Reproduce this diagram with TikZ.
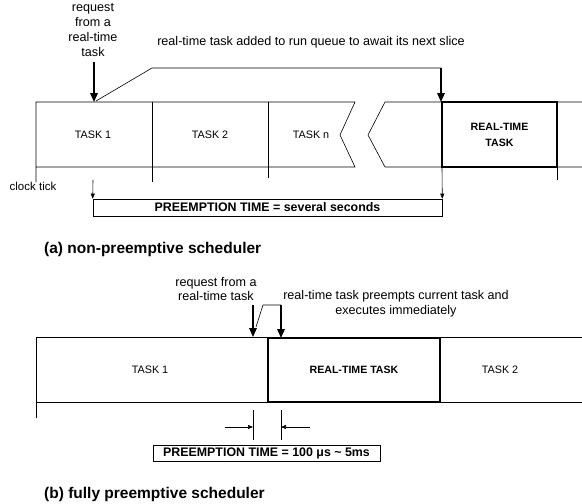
\documentclass[tikz,border=0pt]{standalone}
\usepackage{fontspec}
\setmainfont{Liberation Sans}
\usetikzlibrary{arrows.meta}
\tikzset{
  thinline/.style={line width=0.6pt},
  thickbox/.style={line width=1.3pt},
  bigarrow/.style={line width=1.6pt,-{Triangle[length=9pt,width=7.5pt]}},
  smallarrow/.style={line width=0.6pt,-{Triangle[length=5pt,width=4pt]}},
  lbl/.style={font=\fontsize{12.6}{14.8}\selectfont,align=center,inner sep=0pt},
  tasklbl/.style={font=\fontsize{10.8}{16}\selectfont,align=center,inner sep=0pt},
  rtlbl/.style={font=\fontsize{10.6}{16}\selectfont\bfseries,align=center,inner sep=0pt},
  ptlbl/.style={font=\fontsize{12.4}{14}\selectfont\bfseries,inner sep=0pt},
  caplbl/.style={font=\fontsize{15.5}{18}\selectfont\bfseries,inner sep=0pt,anchor=west},
}
\begin{document}
\begin{tikzpicture}[x=1pt,y=-1pt]
\useasboundingbox (0,0) rectangle (582,504);
% ---------------- (a) ----------------
\node[lbl] (reqa) at (93,30) {request\\from a\\real-time\\task};
\coordinate (reqaS) at (94,62);
\coordinate (reqaT) at (94,102);
\draw[bigarrow] (reqaS) -- (reqaT);
\node[lbl] (calla) at (311,42) {real-time task added to run queue to await its next slice};
\coordinate (ca1) at (96,101);
\coordinate (ca2) at (152,68);
\coordinate (ca3) at (441,68);
\coordinate (ca4) at (441,102);
\draw[thinline] (ca1) -- (ca2) -- (ca3);
\draw[bigarrow] (ca3) -- (ca4);
% strip
\draw[thinline] (36,182) -- (36,102) -- (355,102) -- (340,135) -- (355,167) -- (36,167);
\draw[thinline] (582,102) -- (385,102) -- (368,135) -- (385,167) -- (582,167);
\draw[thinline] (152,102) -- (152,182);
\draw[thinline] (268,102) -- (268,178);
\draw[thinline] (557,167) -- (557,180);
\node[draw,thickbox,minimum width=115pt,minimum height=65pt,inner sep=0pt] (rta) at (499.5,134.5) {};
\node[tasklbl] (t1a) at (93,135) {TASK 1};
\node[tasklbl] (t2a) at (210,135) {TASK 2};
\node[tasklbl] (tna) at (311,135) {TASK n};
\node[rtlbl] (rtla) at (rta.center) {REAL-TIME\\TASK};
% clock tick / preemption time
\node[lbl,font=\fontsize{11.5}{14}\selectfont] (clk) at (33,186) {clock tick};
\node[draw,thinline,minimum width=349pt,minimum height=17pt,inner sep=0pt] (pta) at (267.5,207.5) {};
\node[ptlbl] (ptla) at (pta.center) {PREEMPTION TIME = several seconds};
\coordinate (ckS) at (93,180);
\draw[smallarrow] (ckS) -- (pta.north west);
\coordinate (rtS) at (442,167);
\draw[smallarrow] (rtS) -- (pta.north east);
\node[caplbl] (capa) at (44,249) {(a) non-preemptive scheduler};
% ---------------- (b) ----------------
\node[lbl] (reqb) at (216,289) {request from a\\real-time task};
\node[lbl] (callb) at (396,304) {real-time task preempts current task and\\executes immediately};
\coordinate (rb1) at (253,305);
\coordinate (rb2) at (253,337);
\draw[bigarrow] (rb1) -- (rb2);
\coordinate (cb1) at (256,327);
\coordinate (cb2) at (263,305);
\coordinate (cb3) at (281,305);
\coordinate (cb4) at (281,338);
\draw[thinline] (cb1) -- (cb2) -- (cb3);
\draw[bigarrow] (cb3) -- (cb4);
% strip b
\draw[thinline] (36,418) -- (36,337) -- (582,337);
\draw[thinline] (36,402) -- (582,402);
\node[draw,thickbox,fill=white,minimum width=172pt,minimum height=64pt,inner sep=0pt] (rtb) at (354,370) {};
\node[tasklbl] (t1b) at (150,370) {TASK 1};
\node[rtlbl] (rtlb) at (rtb.center) {REAL-TIME TASK};
\node[tasklbl] (t2b) at (500,370) {TASK 2};
% preemption time b
\coordinate (pl1) at (253,410);
\coordinate (pl2) at (253,440);
\coordinate (pr1) at (281,410);
\coordinate (pr2) at (281,440);
\draw[thinline] (pl1) -- (pl2);
\draw[thinline] (pr1) -- (pr2);
\coordinate (al) at (225,427);
\coordinate (alt) at (253,427);
\coordinate (ar) at (310,427);
\coordinate (art) at (281,427);
\draw[smallarrow] (al) -- (alt);
\draw[smallarrow] (ar) -- (art);
\node[draw,thinline,minimum width=227pt,minimum height=16pt,inner sep=0pt] (ptb) at (266.5,453) {};
\node[ptlbl] (ptlb) at (ptb.center) {PREEMPTION TIME = 100 μs \char`~{} 5ms};
\node[caplbl] (capb) at (44,494) {(b) fully preemptive scheduler};
\end{tikzpicture}
\end{document}
